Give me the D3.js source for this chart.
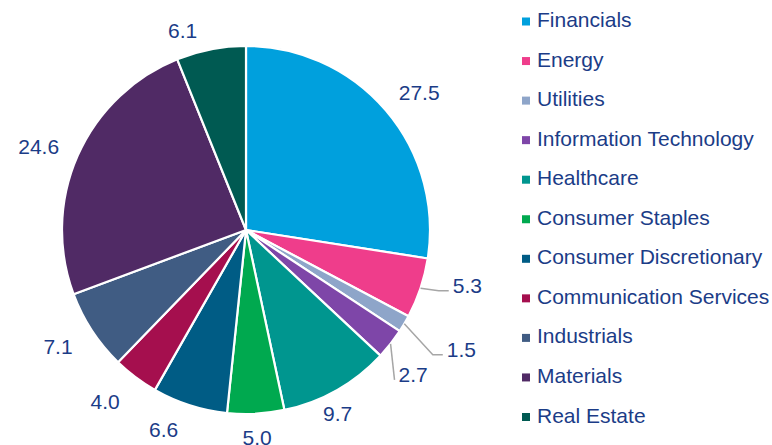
<!DOCTYPE html>
<html>
<head>
<meta charset="utf-8">
<script src="https://cdn.jsdelivr.net/npm/d3@7"></script>
<style>
  body { margin: 0; background: #fff; }
  text { font-family: "Liberation Sans", Arial, sans-serif; }
</style>
</head>
<body>
<div id="chart-container"></div>
<script>
// Sector weights
const sectors = ["Financials", "Energy", "Utilities", "Information Technology", "Healthcare",
  "Consumer Staples", "Consumer Discretionary", "Communication Services", "Industrials",
  "Materials", "Real Estate"];
const weights = [27.5, 5.3, 1.5, 2.7, 9.7, 5.0, 6.6, 4.0, 7.1, 24.6, 6.1];
const colors = ["#00a0dd", "#ef3d8b", "#8ea5c9", "#7e46a8", "#00968f", "#00a94f",
  "#005c85", "#a50f4e", "#405c83", "#502a65", "#005a52"];

// Label nudges (degrees, px) so labels sit where the original puts them
const labelShift = [[2, 2], [-4.3, 12], [-1.6, 30], [2.7, 5], [2.9, -9], [0, 0],
  [4.7, 4], [2.6, 7], [1.3, 5], [-1.9, 3], [-6.6, 0]];
const leaderIdx = [1, 2, 3];

const W = 772, H = 445;
const cx = 246, cy = 230, r = 184;
const textColor = "#1b3c87";

const svg = d3.select("#chart-container")
  .append("svg")
  .attr("width", W)
  .attr("height", H);

const pie = d3.pie().sort(null).value(d => d)
  .startAngle(0).endAngle(2 * Math.PI);
const arcs = pie(weights);
const arc = d3.arc().innerRadius(0).outerRadius(r);

const g = svg.append("g").attr("transform", `translate(${cx},${cy})`);

// Slices
g.selectAll("path.slice")
  .data(arcs)
  .join("path")
  .attr("class", "slice")
  .attr("d", arc)
  .attr("fill", (d, i) => colors[i])
  .attr("stroke", "#fff")
  .attr("stroke-width", 2.2)
  .attr("stroke-linejoin", "round");

// Data labels
const fontSize = 21;
const polar = (a, d) => [d * Math.sin(a), -d * Math.cos(a)];

arcs.forEach((d, i) => {
  const label = d3.format(".1f")(weights[i]);
  const hw = label.length * 0.45 * 20 / 2 + 2;
  const hh = 8;
  const mid = (d.startAngle + d.endAngle) / 2;
  const base = r + 15 + Math.abs(Math.sin(mid)) * hw + Math.abs(Math.cos(mid)) * hh;
  const a = mid + labelShift[i][0] * Math.PI / 180;
  const [lx, ly] = polar(a, base + labelShift[i][1]);

  const t = g.append("text")
    .attr("x", lx)
    .attr("y", ly)
    .attr("dy", "0.36em")
    .attr("text-anchor", "middle")
    .style("font-size", fontSize + "px")
    .style("fill", textColor)
    .text(label);

  if (leaderIdx.includes(i)) {
    const w = t.node().getComputedTextLength();
    const start = polar(mid, r);
    const end = [lx - w / 2 - 4, ly + 5];
    const pts = [start];
    if (end[0] - start[0] > 15) pts.push([end[0] - 10, end[1]]);
    pts.push(end);
    g.append("path")
      .attr("d", d3.line()(pts))
      .attr("fill", "none")
      .attr("stroke", "#a6a6a6")
      .attr("stroke-width", 1.5);
  }
});

// Legend
const legend = svg.append("g").attr("transform", "translate(522,0)");
const rowY = d3.scalePoint().domain(sectors).range([19.5, 415]);

legend.selectAll("rect")
  .data(sectors)
  .join("rect")
  .attr("x", 0)
  .attr("y", d => rowY(d) - 2)
  .attr("width", 8)
  .attr("height", 8)
  .attr("fill", (d, i) => colors[i]);

legend.selectAll("text")
  .data(sectors)
  .join("text")
  .attr("x", 15)
  .attr("y", d => rowY(d))
  .attr("dy", "0.36em")
  .style("font-size", "21px")
  .style("fill", textColor)
  .text(d => d);
</script>
</body>
</html>
